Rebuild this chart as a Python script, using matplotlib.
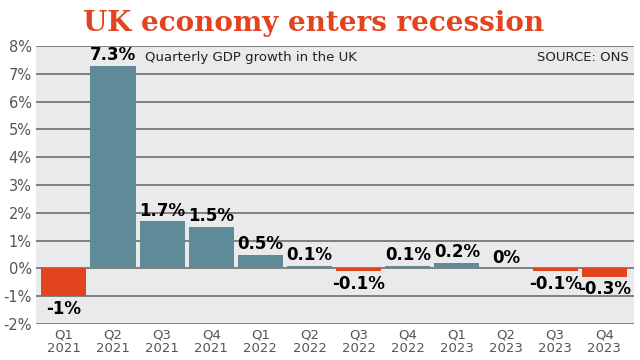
import numpy as np
import matplotlib.pyplot as plt

quarters = ['Q1\n2021', 'Q2\n2021', 'Q3\n2021', 'Q4\n2021', 'Q1\n2022', 'Q2\n2022',
            'Q3\n2022', 'Q4\n2022', 'Q1\n2023', 'Q2\n2023', 'Q3\n2023', 'Q4\n2023']
growth = [-1.0, 7.3, 1.7, 1.5, 0.5, 0.1, -0.1, 0.1, 0.2, 0.0, -0.1, -0.3]
labels = ['-1%', '7.3%', '1.7%', '1.5%', '0.5%', '0.1%', '-0.1%', '0.1%', '0.2%', '0%', '-0.1%', '-0.3%']
yticks = [-2, -1, 0, 1, 2, 3, 4, 5, 6, 7, 8]

teal = '#5e8b97'
red = '#e2441f'

fig = plt.figure(figsize=(6.4, 3.6), dpi=100)
ax = fig.add_axes([0.056, 0.1, 0.935, 0.772])
ax.set_facecolor('#e9eaeb')

x = np.arange(len(growth))
colors = [red if v < 0 else teal for v in growth]
ax.bar(x, growth, width=0.92, color=colors, zorder=3)

for i, v in enumerate(growth):
    if v < 0:
        ax.text(i, v - 0.12, labels[i], ha='center', va='top', fontsize=12,
                fontweight='heavy', color='black', zorder=4)
    else:
        ax.text(i, v + 0.06, labels[i], ha='center', va='bottom', fontsize=12,
                fontweight='heavy', color='black', zorder=4)

ax.set_xlim(-0.57, len(growth) - 0.39)
ax.set_ylim(-2, 8)
ax.set_yticks(yticks)
ax.set_yticklabels([f'{t}%' for t in yticks], color='#555555', fontsize=10.5)
ax.set_xticks(x)
ax.set_xticklabels(quarters, color='#555555', fontsize=9.5, linespacing=1.1)
ax.tick_params(length=0, pad=3)
ax.grid(axis='y', color='#6e6e6e', linewidth=1.2, zorder=1)
for s in ax.spines.values():
    s.set_visible(False)

ax.text(1.65, 7.6, 'Quarterly GDP growth in the UK', fontsize=9.5, color='#222222',
        va='center', ha='left')
ax.text(11.5, 7.6, 'SOURCE: ONS', fontsize=9.5, color='#222222', va='center', ha='right')

fig.text(0.49, 0.935, 'UK economy enters recession', ha='center', va='center',
         fontsize=20, fontweight='bold', color=red, family='DejaVu Serif')

fig.savefig('out.png', dpi=100, facecolor='white')
